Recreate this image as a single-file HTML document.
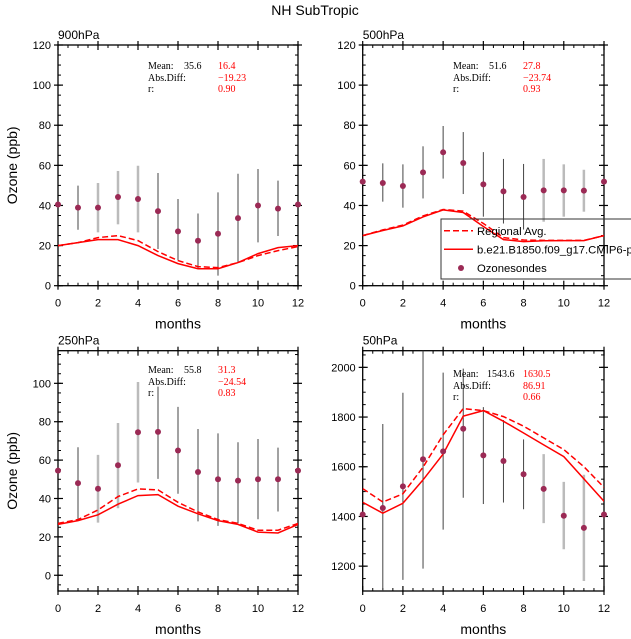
<!DOCTYPE html>
<html><head><meta charset="utf-8"><style>
body{margin:0;background:#fff;width:631px;height:639px;overflow:hidden}
svg{display:block;font-family:"Liberation Sans",sans-serif}
.st{font-family:"Liberation Serif",serif;font-size:10px}
</style></head><body>
<svg id="c" width="631" height="639">
<text x="315" y="15" text-anchor="middle" font-size="14">NH SubTropic</text>
</svg>
<script>
const months=[0,1,2,3,4,5,6,7,8,9,10,11,12];
// 900hPa
const obs900=[40.5,38.9,38.9,44.2,43.2,37.2,27.1,22.4,25.9,33.7,40,38.4,40.5];
const hi900=[null,49.9,51.2,57.2,59.8,56.2,43.2,36,46.5,55.8,58.2,52.4,null];
const lo900=[null,27.9,26.6,30.6,26.6,18.3,12.8,8.6,5,11.6,21.6,24.8,null];
const dash900=[20,21.5,24,25,22.5,17,12.5,9.5,9,11.5,15,17.5,19.5];
const solid900=[20,21.5,23,23,20,15,11,8.5,8.5,11.5,16,19,20];
// 500hPa
const obs500=[51.9,51.2,49.7,56.5,66.5,61.2,50.5,47,44.2,47.5,47.5,47.4,51.9];
const hi500=[null,61,60.5,69.5,79.6,76.6,66.6,63.2,60.7,63.2,60.5,57.8,null];
const lo500=[null,41.9,38.9,43.5,53.4,45.7,34.4,31,28,31.9,34.4,36.9,null];
const dash500=[25,27.8,30.2,34.8,38,37.2,31,24,22.8,22.6,22.6,22.6,25];
const solid500=[25,27.5,29.8,34.3,37.8,36.5,29.5,23,22,22.4,22.5,22.5,25];
// 250hPa
const obs250=[54.5,48,45.1,57.3,74.5,74.7,65,53.8,50,49.3,50,50,54.5];
const hi250=[null,66.7,62.7,79.3,100.7,98.3,87.7,76.2,73.9,69.3,71,66.5,null];
const lo250=[null,29.2,27.4,34.9,48.3,50.2,42.5,28.1,25.7,27.1,29.2,33.2,null];
const dash250=[27,29,34,41,45,44.5,38,33,29,27,23.5,23.5,27];
const solid250=[26.5,28.5,31.5,37,41.5,42,36,32,28.5,26.5,22.5,22,26.5];
// 50hPa
const obs50=[1408,1434,1521,1630,1662,1753,1646,1623,1570,1511,1403,1354,1408];
const hi50=[null,1772,1898,2100,1979,1995,1840,1788,1710,1651,1539,1568,null];
const lo50=[null,1090,1145,1190,1347,1475,1450,1456,1429,1373,1268,1140,null];
const dash50=[1512,1458,1491,1598,1728,1834,1826,1802,1763,1716,1669,1600,1517];
const solid50=[1457,1413,1453,1547,1651,1804,1826,1783,1736,1688,1641,1551,1461];
const yticks1=[0,20,40,60,80,100,120];
const yticks3=[0,20,40,60,80,100];
const yticks4=[1200,1400,1600,1800,2000];
const xticks=[0,2,4,6,8,10,12];
const light=[[2,3,4],[9,10,11],[2,3,4],[9,10,11]];
const stats=[["35.6","16.4","\u221219.23","0.90"],["51.6","27.8","\u221223.74","0.93"],["55.8","31.3","\u221224.54","0.83"],["1543.6","1630.5","86.91","0.66"]];

const svg=document.getElementById('c');const NS='http://www.w3.org/2000/svg';
function mk(t,a,p){const e=document.createElementNS(NS,t);for(const k in a)e.setAttribute(k,a[k]);(p||svg).appendChild(e);return e;}
const panels=[
 {name:'900hpa',label:'900hPa',x0:58,x1:298,y0:45,y1:285.7,ymin:0,ymax:120,yt:yticks1,minor:5,obs:obs900,hi:hi900,lo:lo900,dash:dash900,solid:solid900,ylab:true,sx:148,sy:69},
 {name:'500hpa',label:'500hPa',x0:362.7,x1:604,y0:45,y1:285.7,ymin:0,ymax:120,yt:yticks1,minor:5,obs:obs500,hi:hi500,lo:lo500,dash:dash500,solid:solid500,ylab:false,sx:453,sy:69},
 {name:'250hpa',label:'250hPa',x0:58,x1:298,y0:350.7,y1:591,ymin:-8.2,ymax:117,yt:yticks3,minor:5,obs:obs250,hi:hi250,lo:lo250,dash:dash250,solid:solid250,ylab:true,sx:148,sy:373},
 {name:'50hpa',label:'50hPa',x0:362.7,x1:604,y0:350.7,y1:591,ymin:1100,ymax:2067,yt:yticks4,minor:50,obs:obs50,hi:hi50,lo:lo50,dash:dash50,solid:solid50,ylab:false,sx:453,sy:377}
];
panels.forEach((P,pi)=>{
 const g=mk('g',{});
 
 
 const X=v=>P.x0+(v-months[0])/(12)*(P.x1-P.x0);
 const Y=v=>P.y1-(v-P.ymin)/(P.ymax-P.ymin)*(P.y1-P.y0);
 const cid='clip'+pi;
 const cp=mk('clipPath',{id:cid},g);mk('rect',{x:P.x0,y:P.y0,width:P.x1-P.x0,height:P.y1-P.y0},cp);
 const first=Math.ceil(P.ymin/P.minor)*P.minor;
 for(let v=first;v<=P.ymax;v+=P.minor){const y=Y(v);
  mk('line',{x1:P.x0,x2:P.x0+3,y1:y,y2:y,stroke:'#000','stroke-width':1},g);
  mk('line',{x1:P.x1,x2:P.x1-3,y1:y,y2:y,stroke:'#000','stroke-width':1},g);}
 for(let m=0.5;m<12;m+=0.5){if(m%2===0)continue;const x=X(m);
  mk('line',{x1:x,x2:x,y1:P.y1,y2:P.y1-3,stroke:'#000','stroke-width':1},g);
  mk('line',{x1:x,x2:x,y1:P.y0,y2:P.y0+3,stroke:'#000','stroke-width':1},g);}
 P.yt.forEach(v=>{const y=Y(v);
  mk('line',{x1:P.x0-4,x2:P.x0+5,y1:y,y2:y,stroke:'#000','stroke-width':1.2},g);
  mk('line',{x1:P.x1-5,x2:P.x1+4,y1:y,y2:y,stroke:'#000','stroke-width':1.2},g);
  const t=mk('text',{x:P.x0-7,y:y+4,'text-anchor':'end','font-size':11},g);t.textContent=v;
  
  });
 xticks.forEach(v=>{const x=X(v);
  mk('line',{x1:x,x2:x,y1:P.y1+4,y2:P.y1-5,stroke:'#000','stroke-width':1.2},g);
  mk('line',{x1:x,x2:x,y1:P.y0-4,y2:P.y0+5,stroke:'#000','stroke-width':1.2},g);
  const t=mk('text',{x:x,y:P.y1+21,'text-anchor':'middle','font-size':11},g);t.textContent=v;
  
  });
 mk('rect',{x:P.x0,y:P.y0,width:P.x1-P.x0,height:P.y1-P.y0,fill:'none',stroke:'#000','stroke-width':1.3},g);
 const lbl=mk('text',{x:P.x0,y:P.y0-6,'font-size':12},g);lbl.textContent=P.label;
 
 
 const xl=mk('text',{x:(P.x0+P.x1)/2,y:P.y1+43,'text-anchor':'middle','font-size':14},g);xl.textContent='months';
 
 
 if(P.ylab){const cy=(P.y0+P.y1)/2;const yl=mk('text',{x:17,y:cy,'text-anchor':'middle','font-size':14,transform:`rotate(-90 17 ${cy})`},g);yl.textContent='Ozone (ppb)';
  
  }
 const cg=mk('g',{'clip-path':`url(#${cid})`},g);
 months.forEach((m,i)=>{if(P.hi[i]==null)return;const isL=light[pi].includes(m);
  const b=mk('line',{x1:X(m),x2:X(m),y1:Y(P.hi[i]),y2:Y(P.lo[i]),stroke:isL?'#bbb':'#444','stroke-width':isL?2.5:1},cg);
  
  });
 const pts=a=>months.map((m,i)=>X(m).toFixed(1)+','+Y(a[i]).toFixed(1)).join(' ');
 const ld=mk('polyline',{points:pts(P.dash),fill:'none',stroke:'#f00','stroke-width':1.5,'stroke-dasharray':'6 3'},cg);
 
 
 const ls=mk('polyline',{points:pts(P.solid),fill:'none',stroke:'#f00','stroke-width':1.5},cg);
 
 
 months.forEach((m,i)=>{const c=mk('circle',{cx:X(m),cy:Y(P.obs[i]),r:3,fill:'#9b2a55'},g);
  
  });
 const s=stats[pi];const st=mk('g',{class:'st'},g);
 
 
 const T=(x,y,txt,col)=>{const t=mk('text',{x:x,y:y,fill:col},st);t.textContent=txt;};
 T(P.sx,P.sy,'Mean:','#000');T(P.sx+(pi==3?34:36),P.sy,s[0],'#000');T(P.sx+70,P.sy,s[1],'#f00');
 T(P.sx,P.sy+12,'Abs.Diff:','#000');T(P.sx+70,P.sy+12,s[2],'#f00');
 T(P.sx,P.sy+23,'r:','#000');T(P.sx+70,P.sy+23,s[3],'#f00');
});
const lg=mk('g',{});


mk('rect',{x:441,y:219,width:200,height:60,fill:'none',stroke:'#333','stroke-width':1},lg);
mk('line',{x1:444,x2:473,y1:230.7,y2:230.7,stroke:'#f00','stroke-width':1.5,'stroke-dasharray':'6 3'},lg);
mk('line',{x1:444,x2:473,y1:249.3,y2:249.3,stroke:'#f00','stroke-width':1.5},lg);
mk('circle',{cx:461,cy:268,r:3,fill:'#9b2a55'},lg);
[['Regional Avg.',235],['b.e21.B1850.f09_g17.CMIP6-piControl',253.5],['Ozonesondes',272]].forEach(([t,y])=>{const e=mk('text',{x:477,y:y,'font-size':11.3},lg);e.textContent=t;
 
 });
</script>
</body></html>
